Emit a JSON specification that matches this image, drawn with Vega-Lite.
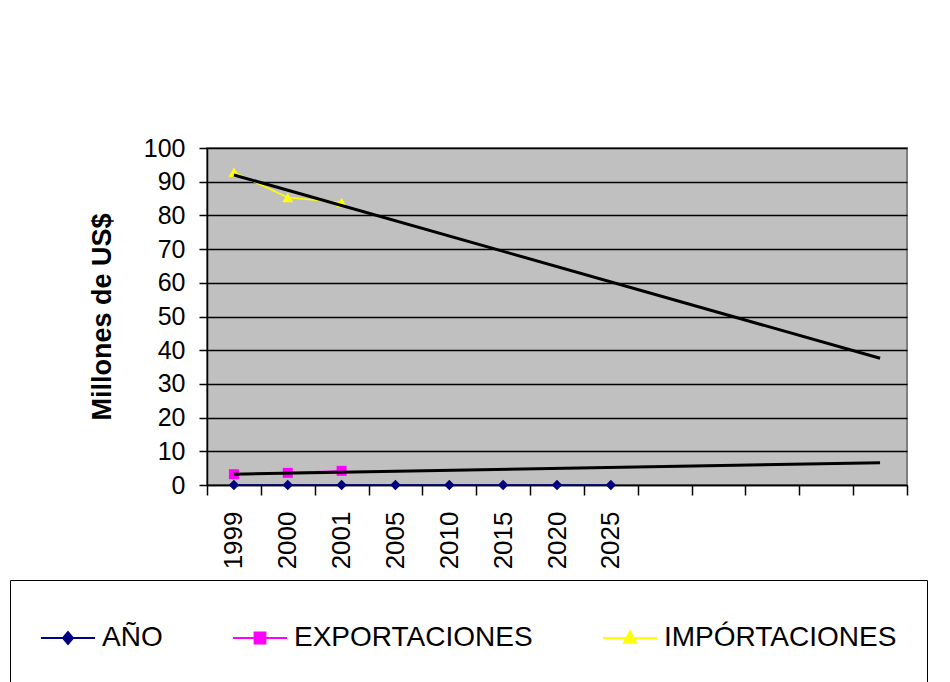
{
  "$schema": "https://vega.github.io/schema/vega-lite/v6.json",
  "width": 700,
  "height": 337,
  "autosize": {"type": "none"},
  "padding": {"left": 207, "top": 148, "right": 43, "bottom": 197},
  "background": "white",
  "config": {
    "font": "Liberation Sans",
    "view": {"fill": "#C0C0C0", "stroke": "#808080", "strokeWidth": 2},
    "axis": {"labelFont": "Liberation Sans", "titleFont": "Liberation Sans", "labelColor": "black", "titleColor": "black", "tickColor": "black", "domainColor": "black"}
  },
  "datasets": {
    "series": [
      {"cat": "1999", "serie": "AÑO", "valor": 0},
      {"cat": "2000", "serie": "AÑO", "valor": 0},
      {"cat": "2001", "serie": "AÑO", "valor": 0},
      {"cat": "2005", "serie": "AÑO", "valor": 0},
      {"cat": "2010", "serie": "AÑO", "valor": 0},
      {"cat": "2015", "serie": "AÑO", "valor": 0},
      {"cat": "2020", "serie": "AÑO", "valor": 0},
      {"cat": "2025", "serie": "AÑO", "valor": 0},
      {"cat": "1999", "serie": "EXPORTACIONES", "valor": 3.2},
      {"cat": "2000", "serie": "EXPORTACIONES", "valor": 3.6},
      {"cat": "2001", "serie": "EXPORTACIONES", "valor": 4.2},
      {"cat": "1999", "serie": "IMPÓRTACIONES", "valor": 92.8},
      {"cat": "2000", "serie": "IMPÓRTACIONES", "valor": 85.3},
      {"cat": "2001", "serie": "IMPÓRTACIONES", "valor": 83.8}
    ],
    "trend": [
      {"cat": "1999", "serie": "IMPÓRTACIONES", "valor": 92.0},
      {"cat": "x13", "serie": "IMPÓRTACIONES", "valor": 37.6},
      {"cat": "1999", "serie": "EXPORTACIONES", "valor": 3.2},
      {"cat": "x13", "serie": "EXPORTACIONES", "valor": 6.6}
    ]
  },
  "encoding": {
    "x": {"field": "cat", "type": "ordinal", "bandPosition": 0.5,
      "scale": {"type": "band", "domain": ["1999", "2000", "2001", "2005", "2010", "2015", "2020", "2025", "x9", "x10", "x11", "x12", "x13"], "paddingInner": 0, "paddingOuter": 0},
      "sort": null,
      "axis": {"title": null, "labelAngle": 270, "labelFontSize": 26, "tickSize": 10, "tickWidth": 1.5, "domainWidth": 1.5, "labelPadding": 16, "tickBand": "extent", "grid": false, "labelExpr": "length(datum.label) == 4 ? datum.label : ''"}
    },
    "y": {"field": "valor", "type": "quantitative",
      "scale": {"domain": [0, 100], "nice": false},
      "axis": {"values": [0, 10, 20, 30, 40, 50, 60, 70, 80, 90, 100], "labelOverlap": false, "labelBound": false, "title": "Millones de US$", "titleFontSize": 27, "titleFontWeight": "bold", "titlePadding": 27, "labelFontSize": 25, "tickSize": 8, "tickWidth": 1.5, "domainWidth": 1.5, "labelPadding": 14, "grid": true, "gridColor": "black", "gridWidth": 1.5, "gridOpacity": 1}
    }
  },
  "layer": [
    {
      "data": {"name": "series"},
      "mark": {"type": "line", "strokeWidth": 1.5},
      "encoding": {
        "color": {"field": "serie", "type": "nominal",
          "scale": {"domain": ["AÑO", "EXPORTACIONES", "IMPÓRTACIONES"], "range": ["#000080", "#FF00FF", "#FFFF00"]},
          "legend": {"orient": "none", "legendX": -197, "legendY": 432, "direction": "horizontal", "title": null, "strokeColor": "black", "fillColor": "white", "padding": 30, "columnPadding": 66, "labelFontSize": 28, "labelLimit": 0, "labelFont": "Liberation Sans", "labelColor": "black", "labelOffset": 6, "symbolSize": 2916, "symbolStrokeWidth": 2, "symbolType": "M-1,0H1",
            "encode": {"symbols": {"update": {
              "shape": {"signal": "datum.value === 'AÑO' ? 'M-1,0H1M0,-0.22L0.185,0L0,0.22L-0.185,0Z' : (datum.value === 'EXPORTACIONES' ? 'M-1,0H1M-0.2,-0.2H0.2V0.2H-0.2Z' : 'M-1,0H1M0,-0.24L0.22,0.18H-0.22Z')"},
              "fill": {"signal": "scale('color', datum.value)"},
              "stroke": {"signal": "scale('color', datum.value)"},
              "opacity": {"value": 1},
              "strokeWidth": {"value": 2}
            }}}
          }
        }
      }
    },
    {
      "data": {"name": "series"},
      "transform": [{"filter": "datum.serie === 'AÑO'"}],
      "mark": {"type": "point", "shape": "diamond", "filled": true, "opacity": 1, "size": 110},
      "encoding": {"color": {"field": "serie", "type": "nominal"}}
    },
    {
      "data": {"name": "series"},
      "transform": [{"filter": "datum.serie === 'EXPORTACIONES'"}],
      "mark": {"type": "point", "shape": "square", "filled": true, "opacity": 1, "size": 100},
      "encoding": {"color": {"field": "serie", "type": "nominal"}}
    },
    {
      "data": {"name": "series"},
      "transform": [{"filter": "datum.serie === 'IMPÓRTACIONES'"}],
      "mark": {"type": "point", "shape": "triangle-up", "filled": true, "opacity": 1, "size": 120},
      "encoding": {"color": {"field": "serie", "type": "nominal"}}
    },
    {
      "data": {"name": "trend"},
      "mark": {"type": "line", "color": "black", "strokeWidth": 3},
      "encoding": {"detail": {"field": "serie", "type": "nominal"}}
    }
  ]
}
